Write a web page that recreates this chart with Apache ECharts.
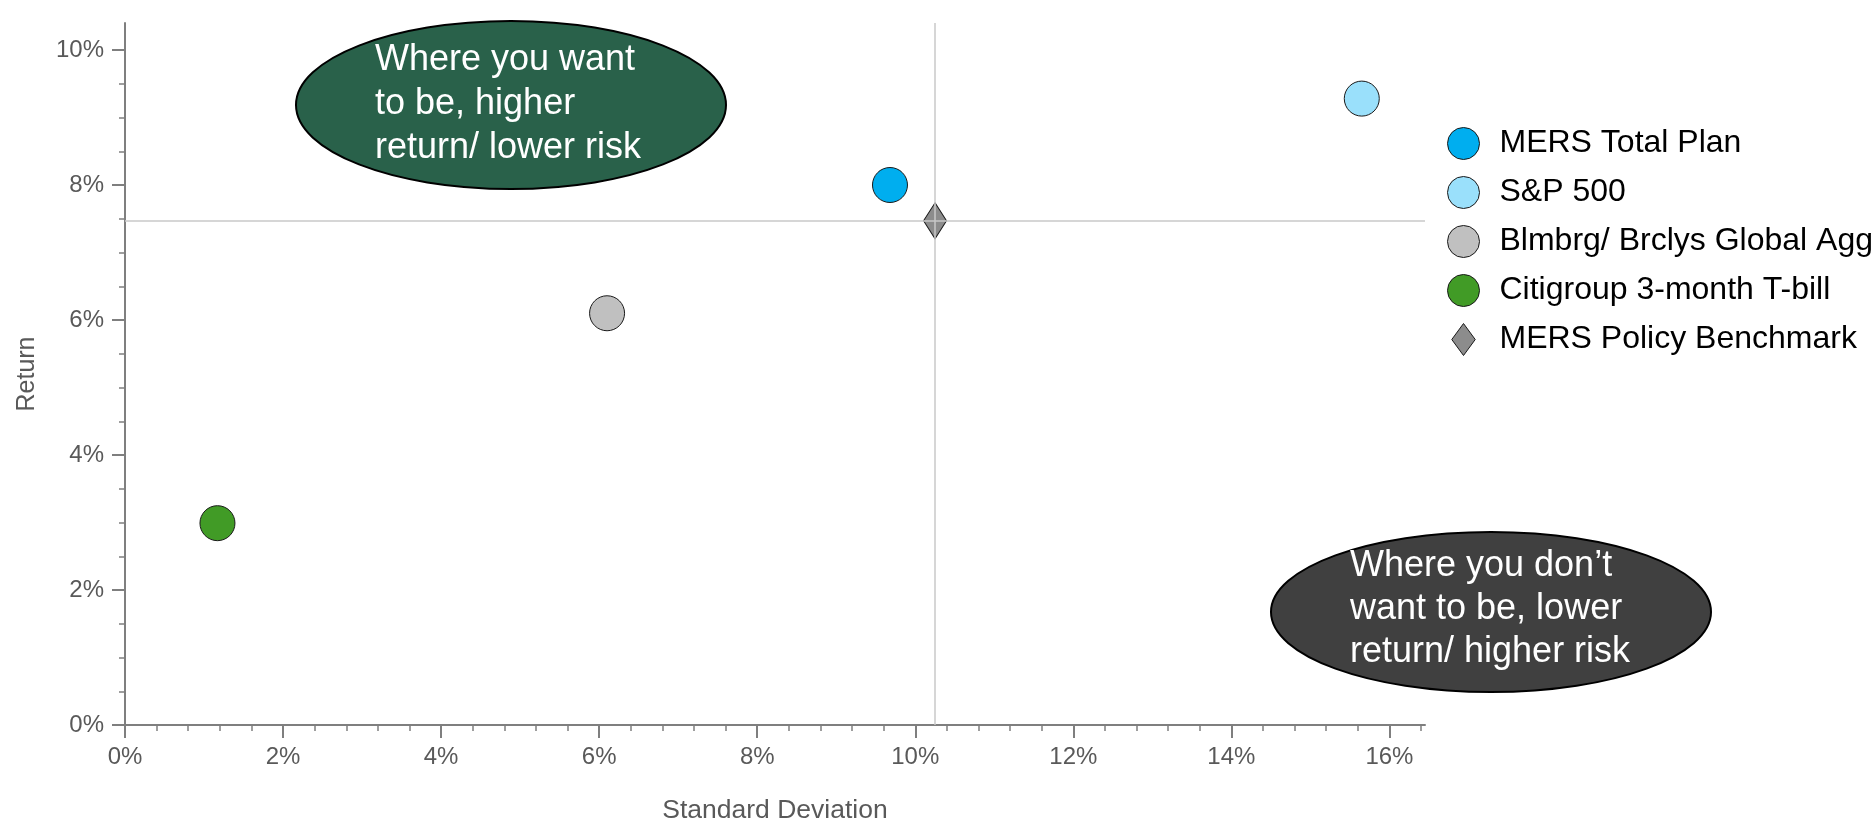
<!DOCTYPE html>
<html>
<head>
<meta charset="utf-8">
<script src="https://cdn.jsdelivr.net/npm/echarts@6/dist/echarts.min.js"></script>
<style>
  html, body { margin: 0; padding: 0; background: #ffffff; }
  #chart { width: 1876px; height: 819px; }
</style>
</head>
<body>
<div id="chart"></div>
<script>
// Risk / return of the plan against its benchmarks (annualised, %)
const seriesNames = [
  'MERS Total Plan',
  'S&P 500',
  'Blmbrg/ Brclys Global Agg',
  'Citigroup 3-month T-bill',
  'MERS Policy Benchmark'
];
const stdDev  = [9.68, 15.65, 6.10, 1.17, 10.25];
const returns = [8.00, 9.28, 6.10, 2.99, 7.47];
const pointColors = ['#00aeef', '#9ae0fb', '#c0c0c0', '#419b26', '#8c8c8c'];

const xMajorTicks = [0, 2, 4, 6, 8, 10, 12, 14, 16];
const yMajorTicks = [0, 2, 4, 6, 8, 10];

const X_MAX = 16.45, Y_MAX = 10.4;
const FONT = "'Liberation Sans', Arial, sans-serif";
const AXIS_GREY = '#7f7f7f';
const LABEL_GREY = '#595959';

function minorValues(max, step, major) {
  const out = [];
  for (let i = 1; i * step <= max + 1e-9; i++) {
    const v = +(i * step).toFixed(4);
    if (Math.abs(v / major - Math.round(v / major)) > 1e-6) out.push(v);
  }
  return out;
}

const benchIdx = 4;
const diamondPath = 'path://M11,0L22,15L11,30L0,15Z';

const scatterSeries = seriesNames.map((name, i) => ({
  name: name,
  type: 'scatter',
  xAxisIndex: 0,
  yAxisIndex: 0,
  z: 3,
  symbol: i === benchIdx ? 'diamond' : 'circle',
  symbolSize: i === benchIdx ? [23, 36] : 35,
  itemStyle: { color: pointColors[i], borderColor: '#1a1a1a', borderWidth: 1, opacity: 1 },
  emphasis: { disabled: true },
  data: [[stdDev[i], returns[i]]]
}));

// crosshair through the policy benchmark
const crosshair = {
  name: 'crosshair',
  type: 'scatter',
  z: 1,
  data: [],
  silent: true,
  markLine: {
    silent: true,
    symbol: 'none',
    label: { show: false },
    lineStyle: { color: '#c8c8c8', width: 1.5, type: 'solid' },
    data: [{ xAxis: stdDev[benchIdx] }, { yAxis: returns[benchIdx] }]
  }
};

const chart = echarts.init(document.getElementById('chart'), null, { renderer: 'canvas' });

chart.setOption({
  animation: false,
  backgroundColor: '#ffffff',
  textStyle: { fontFamily: FONT },
  grid: { left: 125, right: 451, top: 23, bottom: 94, containLabel: false, outerBoundsMode: 'none' },
  xAxis: [
    {
      type: 'value', min: 0, max: X_MAX,
      name: 'Standard Deviation', nameLocation: 'middle', nameGap: 72,
      nameTextStyle: { color: LABEL_GREY, fontSize: 26.5, fontFamily: FONT },
      axisLine: { show: true, lineStyle: { color: AXIS_GREY, width: 2 } },
      axisTick: { show: true, customValues: xMajorTicks, length: 13, lineStyle: { color: AXIS_GREY, width: 2 } },
      axisLabel: { customValues: xMajorTicks, formatter: '{value}%', color: LABEL_GREY, fontSize: 24, margin: 20, fontFamily: FONT },
      splitLine: { show: false }
    },
    {
      type: 'value', min: 0, max: X_MAX, position: 'bottom', offset: 0,
      axisLine: { show: false },
      axisTick: { show: true, customValues: minorValues(X_MAX, 0.4, 2), length: 6, lineStyle: { color: AXIS_GREY, width: 1.5 } },
      axisLabel: { show: false },
      splitLine: { show: false }
    }
  ],
  yAxis: [
    {
      type: 'value', min: 0, max: Y_MAX,
      name: 'Return', nameLocation: 'middle', nameGap: 85, nameRotate: 90,
      nameTextStyle: { color: LABEL_GREY, fontSize: 25, fontFamily: FONT },
      axisLine: { show: true, lineStyle: { color: AXIS_GREY, width: 2 } },
      axisTick: { show: true, customValues: yMajorTicks, length: 13, lineStyle: { color: AXIS_GREY, width: 2 } },
      axisLabel: { customValues: yMajorTicks, formatter: '{value}%', color: LABEL_GREY, fontSize: 24, margin: 21, fontFamily: FONT },
      splitLine: { show: false }
    },
    {
      type: 'value', min: 0, max: Y_MAX, position: 'left', offset: 0,
      axisLine: { show: false },
      axisTick: { show: true, customValues: minorValues(Y_MAX, 0.5, 2), length: 6, lineStyle: { color: AXIS_GREY, width: 1.5 } },
      axisLabel: { show: false },
      splitLine: { show: false }
    }
  ],
  legend: {
    orient: 'vertical',
    left: 1447,
    top: 127,
    padding: 0,
    itemWidth: 32,
    itemHeight: 32,
    itemGap: 16,
    symbolKeepAspect: true,
    selectedMode: false,
    textStyle: { color: '#000000', fontSize: 32, fontFamily: FONT, lineHeight: 32, padding: [0, 0, 0, 15] },
    itemStyle: { borderColor: '#1a1a1a', borderWidth: 1 },
    data: seriesNames.map((n, i) => i === benchIdx ? { name: n, icon: diamondPath } : { name: n, icon: 'circle' })
  },
  graphic: [
    {
      type: 'ellipse', z: 10,
      shape: { cx: 511, cy: 105, rx: 215, ry: 84 },
      style: { fill: '#29614a', stroke: '#000000', lineWidth: 2 }
    },
    {
      type: 'text', z: 11, x: 375, y: 38,
      style: {
        text: 'Where you want\nto be, higher\nreturn/ lower risk',
        fill: '#ffffff', fontSize: 36, fontFamily: FONT, lineHeight: 44
      }
    },
    {
      type: 'ellipse', z: 10,
      shape: { cx: 1491, cy: 612, rx: 220, ry: 80 },
      style: { fill: '#404040', stroke: '#000000', lineWidth: 2 }
    },
    {
      type: 'text', z: 11, x: 1350, y: 545,
      style: {
        text: 'Where you don\u2019t\nwant to be, lower\nreturn/ higher risk',
        fill: '#ffffff', fontSize: 36, fontFamily: FONT, lineHeight: 43
      }
    }
  ],
  series: [crosshair].concat(scatterSeries)
});
</script>
</body>
</html>
